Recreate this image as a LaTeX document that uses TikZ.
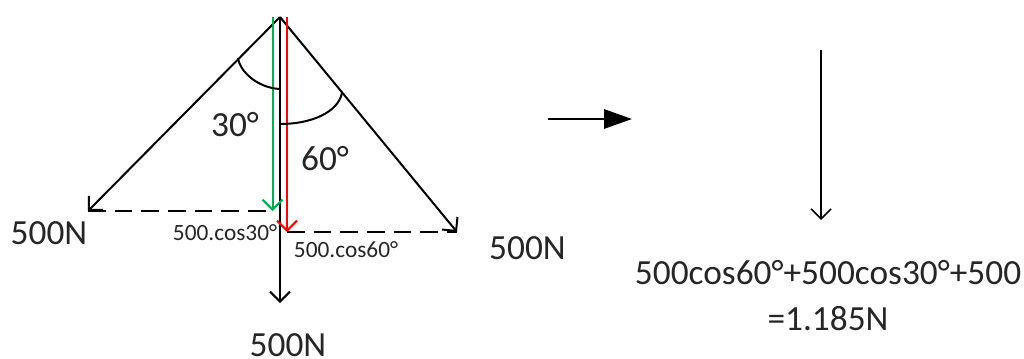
\documentclass[tikz,border=0pt]{standalone}
\usepackage{fontspec}
\setmainfont{Carlito}
\usetikzlibrary{arrows.meta}
\definecolor{vgreen}{HTML}{00B050}
\definecolor{txt}{HTML}{262626}
\tikzset{
  x=0.75pt,y=-0.75pt,
  force/.style={line width=1.5pt,-{Straight Barb[length=7.5pt,width=15pt,line width=1.5pt]}},
  thinforce/.style={line width=1.2pt,-{Straight Barb[length=7.5pt,width=15pt,line width=1.2pt]}},
  dashline/.style={line width=1.5pt,dash pattern=on 13.2pt off 6.8pt},
  angle/.style={line width=1.5pt},
  big/.style={inner sep=0pt,text=txt,font=\fontsize{26.5}{30}\selectfont},
  small/.style={inner sep=0pt,text=txt,font=\fontsize{17.5}{20}\selectfont},
}
\begin{document}
\begin{tikzpicture}
\useasboundingbox (0,0) rectangle (1024,358);
\coordinate (apex) at (280,17);
\coordinate (left) at (88,211);
\coordinate (right) at (457,232);
\coordinate (down) at (280,303);
\coordinate (gtop) at (272.5,17);
\coordinate (gend) at (272.5,211);
\coordinate (rtop) at (287,17);
\coordinate (rend) at (287,232);
\coordinate (a1s) at (238,58);
\coordinate (a1e) at (280,89);
\coordinate (a2s) at (342,93);
\coordinate (a2e) at (280,124);
\coordinate (arl) at (548,119);
\coordinate (arr) at (632,119);
\coordinate (vt) at (821,50);
\coordinate (vb) at (821,220);
\draw[force] (apex) -- (left);
\draw[force] (apex) -- (right);
\draw[force] (apex) -- (down);
\draw[dashline] (left) -- (gend);
\draw[dashline] (rend) -- (right);
\draw[force,vgreen] (gtop) -- (gend);
\draw[force,red] (rtop) -- (rend);
\draw[angle] (a1s) .. controls (240,72) and (258,88) .. (a1e);
\draw[angle] (a2s) .. controls (338,112) and (312,124) .. (a2e);
\draw[line width=1.5pt,-{Triangle[length=21pt,width=14.5pt]}] (arl) -- (arr);
\draw[thinforce] (vt) -- (vb);
\node[big] (l30) at (235,125) {30°};
\node[big] (l60) at (325,159) {60°};
\node[big] (l500a) at (49,233) {500N};
\node[big] (l500b) at (527.5,248) {500N};
\node[big] (l500c) at (288,345.5) {500N};
\node[small] (c30) at (225,232.5) {500.cos30°};
\node[small] (c60) at (346,249.5) {500.cos60°};
\node[big] (f1) at (828,273) {500cos60°+500cos30°+500};
\node[big] (f2) at (828,318.5) {=1.185N};
\end{tikzpicture}
\end{document}
